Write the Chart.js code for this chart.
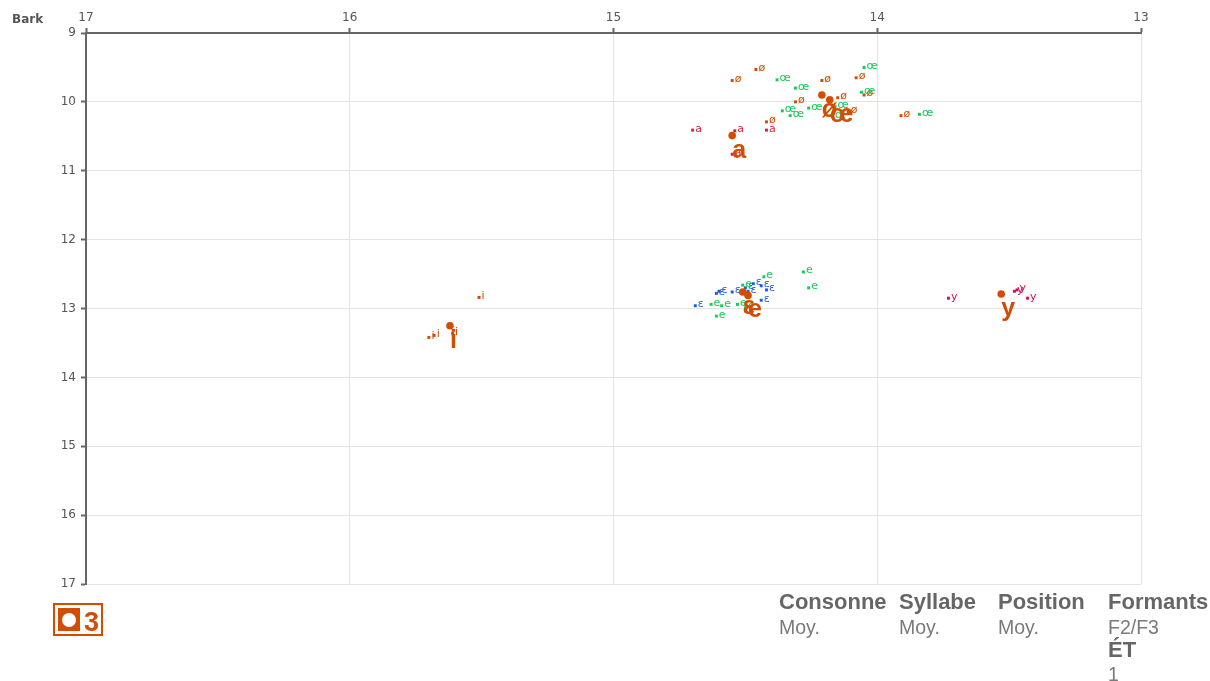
<!DOCTYPE html>
<html>
<head>
<meta charset="utf-8">
<script src="https://cdn.jsdelivr.net/npm/chart.js@4.4.1/dist/chart.umd.min.js"></script>
<style>
  html, body { margin: 0; padding: 0; background: #fff; }
  #wrap { position: relative; width: 1210px; height: 681px; overflow: hidden; }
  #plot { position: absolute; left: 0; top: 0; }
  .info { position: absolute; font-family: "Liberation Sans", Arial, sans-serif; line-height: 24px; white-space: nowrap; }
  .h { font-weight: bold; font-size: 22px; color: #666; }
  .v { font-size: 19.5px; color: #7a7a7a; }
  #badge { position: absolute; left: 53px; top: 603px; width: 50px; height: 33px; box-sizing: border-box; border: 2px solid #d14d00; }
  #badge .sq { position: absolute; left: 3px; top: 3px; width: 22px; height: 23px; background: #d14d00; }
  #badge .dot { position: absolute; left: 4px; top: 5px; width: 14px; height: 14px; border-radius: 50%; background: #fff; }
  #badge .num { position: absolute; left: 29px; top: 4px; font-family: "Liberation Sans", Arial, sans-serif; font-weight: bold; font-size: 27px; line-height: 27px; color: #d14d00; }
</style>
</head>
<body>
<div id="wrap">
  <canvas id="plot" width="1210" height="681"></canvas>
  <div id="badge"><div class="sq"><div class="dot"></div></div><div class="num">3</div></div>
  <div class="info h" style="left:779px;top:590px;">Consonne</div>
  <div class="info v" style="left:779px;top:615px;">Moy.</div>
  <div class="info h" style="left:899px;top:590px;">Syllabe</div>
  <div class="info v" style="left:899px;top:615px;">Moy.</div>
  <div class="info h" style="left:998px;top:590px;">Position</div>
  <div class="info v" style="left:998px;top:615px;">Moy.</div>
  <div class="info h" style="left:1108px;top:590px;">Formants</div>
  <div class="info v" style="left:1108px;top:615px;">F2/F3</div>
  <div class="info h" style="left:1108px;top:638px;">ÉT</div>
  <div class="info v" style="left:1108px;top:662px;">1</div>
</div>
<script>
// Axis ticks (Bark)
const xTicks = [13, 14, 15, 16, 17];
const yTicks = [9, 10, 11, 12, 13, 14, 15, 16, 17];

// Individual tokens, F3-F2 (x) and F2-F1 style value (y), in Bark
const oSlashX = [14.55, 14.46, 14.21, 14.08, 14.05, 14.15, 14.31, 14.42, 14.11, 13.91];
const oSlashY = [9.69, 9.53, 9.69, 9.65, 9.90, 9.94, 10.00, 10.29, 10.14, 10.20];

const oeX = [14.38, 14.31, 14.05, 14.06, 14.36, 14.33, 14.26, 14.16, 13.84, 14.17];
const oeY = [9.68, 9.80, 9.50, 9.86, 10.13, 10.20, 10.09, 10.07, 10.18, 10.21];

const aX = [14.70, 14.54, 14.42, 14.55];
const aY = [10.41, 10.42, 10.41, 10.76];

const iX = [15.51, 15.70, 15.68, 15.61];
const iY = [12.84, 13.42, 13.39, 13.36];

const yX = [13.73, 13.48, 13.47, 13.43];
const yY = [12.85, 12.75, 12.73, 12.85];

const epsX = [14.69, 14.61, 14.60, 14.55, 14.50, 14.49, 14.47, 14.44, 14.42, 14.44];
const epsY = [12.96, 12.78, 12.75, 12.76, 12.70, 12.75, 12.64, 12.67, 12.73, 12.88];

const eX = [14.63, 14.59, 14.61, 14.51, 14.53, 14.43, 14.28, 14.26, 14.50];
const eY = [12.94, 12.96, 13.11, 12.66, 12.94, 12.54, 12.47, 12.70, 12.99];

// Per-vowel means
const meanVowels = ['ø', 'œ', 'a', 'i', 'y', 'ε', 'e'];
const meanX = [14.21, 14.18, 14.55, 15.62, 13.53, 14.51, 14.49];
const meanY = [9.90, 9.97, 10.49, 13.25, 12.79, 12.76, 12.81];

const ORANGE = '#d14d00';
const GREEN = '#19c95a';
const RED = '#dc1e3c';
const PINK = '#d1105a';
const BLUE = '#1d5ddb';

const zip = (xs, ys) => xs.map((x, k) => ({ x: x, y: ys[k] }));

// token groups: label, colour, values
const groups = [
  { text: 'ø', color: ORANGE, xs: oSlashX, ys: oSlashY },
  { text: 'œ', color: GREEN, xs: oeX, ys: oeY },
  { text: 'a', color: RED, xs: aX, ys: aY },
  { text: 'i', color: ORANGE, xs: iX, ys: iY },
  { text: 'y', color: PINK, xs: yX, ys: yY },
  { text: 'ε', color: BLUE, xs: epsX, ys: epsY },
  { text: 'e', color: GREEN, xs: eX, ys: eY }
];

const labelSpecs = [];
const datasets = [];
const total = groups.length + 1;

groups.forEach((g, k) => {
  datasets.push({
    data: zip(g.xs, g.ys),
    pointStyle: 'rect',
    pointRadius: 2.1,
    pointHoverRadius: 2.1,
    backgroundColor: g.color,
    borderWidth: 0,
    showLine: false,
    order: total - k
  });
  labelSpecs.push({ kind: 'token', texts: g.xs.map(() => g.text), color: g.color });
});

datasets.push({
  data: zip(meanX, meanY),
  pointStyle: 'circle',
  pointRadius: 3.8,
  pointHoverRadius: 3.8,
  backgroundColor: ORANGE,
  borderWidth: 0,
  showLine: false,
  order: 0
});
labelSpecs.push({ kind: 'mean', texts: meanVowels, color: ORANGE });

const markLabels = {
  id: 'markLabels',
  afterDatasetDraw(chart, args) {
    const spec = labelSpecs[args.index];
    if (!spec) return;
    const ctx = chart.ctx;
    ctx.save();
    ctx.fillStyle = spec.color;
    ctx.textAlign = 'left';
    ctx.textBaseline = 'alphabetic';
    args.meta.data.forEach((el, k) => {
      if (spec.kind === 'token') {
        ctx.font = '11px "DejaVu Sans"';
        ctx.fillText(spec.texts[k], el.x + 2.5, el.y + 1.5);
      } else {
        ctx.font = 'bold 25px "Liberation Sans"';
        ctx.fillText(spec.texts[k], el.x, el.y + 22);
      }
    });
    ctx.restore();
  },
  afterDraw(chart) {
    const ctx = chart.ctx;
    ctx.save();
    ctx.font = 'bold 12px "DejaVu Sans"';
    ctx.fillStyle = '#555';
    ctx.textAlign = 'left';
    ctx.textBaseline = 'alphabetic';
    ctx.fillText('Bark', 12, 23);
    ctx.restore();
  }
};

const tickFont = { family: 'DejaVu Sans', size: 12 };

new Chart(document.getElementById('plot'), {
  type: 'scatter',
  data: { datasets: datasets },
  options: {
    responsive: false,
    animation: false,
    events: [],
    layout: { padding: { left: 0, top: 0, right: 69, bottom: 97 } },
    plugins: { legend: { display: false }, tooltip: { enabled: false } },
    scales: {
      x: {
        type: 'linear',
        position: 'top',
        reverse: true,
        min: 13,
        max: 17,
        afterBuildTicks(scale) { scale.ticks = xTicks.map(v => ({ value: v })); },
        afterFit(scale) { scale.height = 33; },
        ticks: { color: '#555', font: tickFont, padding: 3, maxRotation: 0 },
        grid: { color: '#e3e3e3', lineWidth: 1, tickLength: 5, tickColor: '#666', tickWidth: 2 },
        border: { color: '#666', width: 2 }
      },
      y: {
        type: 'linear',
        position: 'left',
        reverse: true,
        min: 9,
        max: 17,
        afterBuildTicks(scale) { scale.ticks = yTicks.map(v => ({ value: v })); },
        afterFit(scale) { scale.width = 86; },
        ticks: { color: '#555', font: tickFont, padding: 5 },
        grid: { color: '#e3e3e3', lineWidth: 1, tickLength: 5, tickColor: '#666', tickWidth: 2 },
        border: { color: '#666', width: 2 }
      }
    }
  },
  plugins: [markLabels]
});
</script>
</body>
</html>
